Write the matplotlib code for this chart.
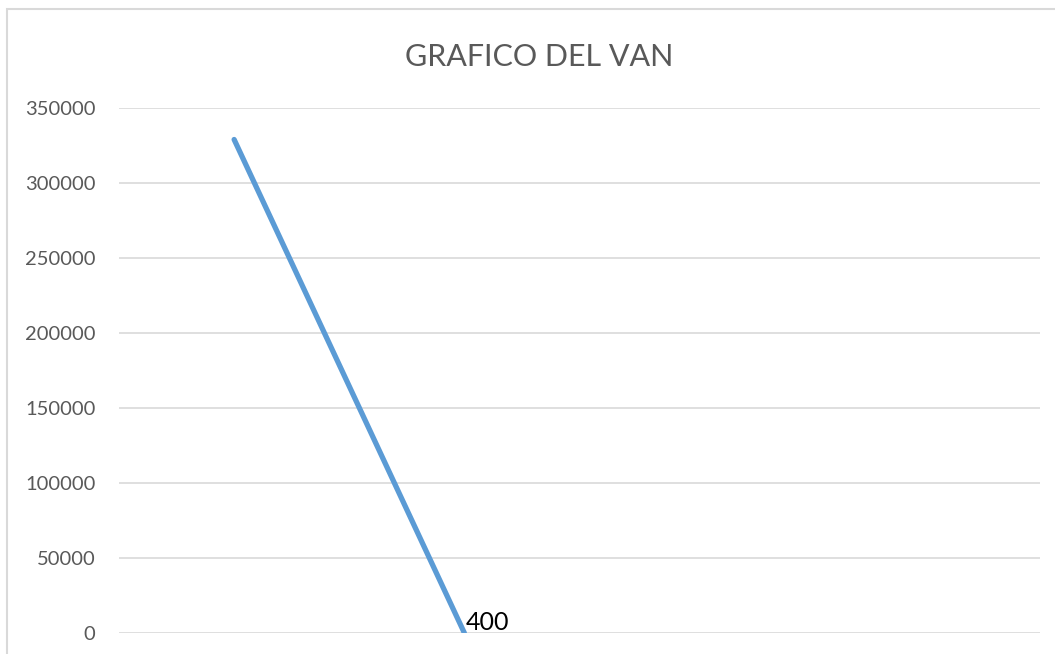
import matplotlib.pyplot as plt
from matplotlib.patches import Rectangle
import numpy as np

# data
categorias = ["", "", "", ""]
van = [329000, 0, np.nan, np.nan]
etiqueta = "400"
yticks = [0, 50000, 100000, 150000, 200000, 250000, 300000, 350000]

plt.rcParams['font.family'] = ['Lato', 'DejaVu Sans']

W, H = 1055, 654
fig = plt.figure(figsize=(W / 100, H / 100), dpi=100)
ax = fig.add_axes([119 / W, (H - 633) / H, (1040 - 119) / W, 525 / H])

# chart border (light gray frame)
fig.patches.append(Rectangle((7 / W, -0.1), 1.2, (H - 9) / H + 0.1,
                             transform=fig.transFigure, fill=False,
                             edgecolor='#D9D9D9', lw=1.5, clip_on=False))

x = np.arange(len(categorias))
ax.plot(x, van, color='#5B9BD5', lw=3.8, solid_capstyle='round', zorder=3)
ax.annotate(etiqueta, (x[1], van[1]), xytext=(1, -1), textcoords='offset points',
            fontsize=18, color='black', ha='left', va='bottom', zorder=4)

ax.set_xlim(-0.5, len(categorias) - 0.5)
ax.set_ylim(0, 350000)
ax.set_yticks(yticks)
ax.set_yticklabels([str(v) for v in yticks])
ax.set_xticks([])
ax.grid(axis='y', color='#D9D9D9', lw=1.2)
ax.set_axisbelow(True)
for s in ax.spines.values():
    s.set_visible(False)
ax.tick_params(axis='y', length=0, pad=17, labelsize=14.5, labelcolor='#595959')

fig.text(539 / W, 1 - 57 / H, "GRAFICO DEL VAN", ha='center', va='center',
         fontsize=22, color='#595959')

fig.savefig('out.png', dpi=100)
